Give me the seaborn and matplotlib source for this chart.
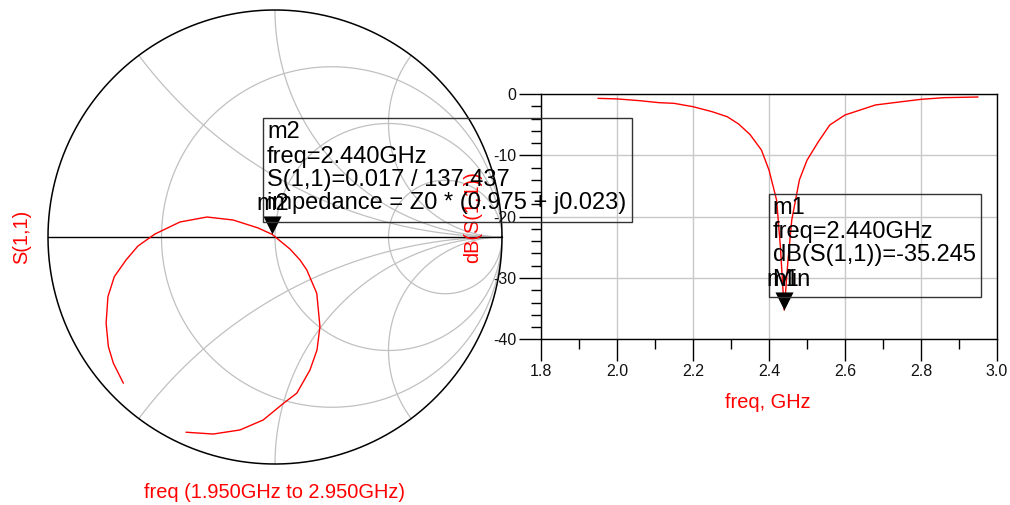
import numpy as np
import matplotlib
matplotlib.use("Agg")
import matplotlib.pyplot as plt
import matplotlib.patches as mpatches
import seaborn as sns
import pandas as pd

# ---------------- data ----------------
freq_ghz = [1.95, 2.00, 2.06, 2.11, 2.15, 2.20, 2.25, 2.29, 2.32, 2.35, 2.38, 2.40,
            2.42, 2.43, 2.44, 2.45, 2.46, 2.48, 2.50, 2.53, 2.56, 2.60, 2.64, 2.68,
            2.75, 2.80, 2.86, 2.95]
s11_db = [-0.71, -0.80, -1.09, -1.41, -1.52, -2.07, -2.88, -3.70, -4.89, -6.60, -9.13, -12.4,
          -17.3, -24.9, -35.245, -27.1, -20.5, -14.0, -10.8, -7.77, -5.05, -3.42, -2.61, -1.79,
          -1.25, -0.87, -0.60, -0.49]

gamma_re = [-0.668, -0.712, -0.734, -0.744, -0.736, -0.708, -0.656, -0.604, -0.529, -0.419,
            -0.300, -0.185, -0.075, -0.0125, 0.066, 0.110, 0.140, 0.184, 0.198, 0.185,
            0.154, 0.096, 0.037, -0.052, -0.154, -0.272, -0.392]
gamma_im = [-0.644, -0.556, -0.483, -0.380, -0.263, -0.175, -0.101, -0.040, 0.013, 0.066,
            0.088, 0.075, 0.040, 0.0115, -0.053, -0.101, -0.145, -0.248, -0.395, -0.498,
            -0.586, -0.688, -0.733, -0.806, -0.850, -0.868, -0.860]

r_circles = [1 / 3, 1.0, 3.0]
x_arcs = [0.5, 1.0, 2.0]

x_major = [1.8, 2.0, 2.2, 2.4, 2.6, 2.8, 3.0]
x_labels = ["1.8", "2.0", "2.2", "2.4", "2.6", "2.8", "3.0"]
y_major = [-40, -30, -20, -10, 0]
y_labels = ["-40", "-30", "-20", "-10", "0"]

m1_freq, m1_db = 2.44, -35.245
m2_mag, m2_ang = 0.017, 137.437

m1_lines = ["m1", "freq=2.440GHz", "dB(S(1,1))=-35.245", "Min"]
m2_lines = ["m2", "freq=2.440GHz", "S(1,1)=0.017 / 137.437",
            "impedance = Z0 * (0.975 + j0.023)"]

# ---------------- style ----------------
sns.set_theme(style="white")
plt.rcParams['font.family'] = ['Liberation Sans', 'DejaVu Sans']
plt.rcParams['axes.unicode_minus'] = False

W, H = 1010, 505
fig = plt.figure(figsize=(W / 100, H / 100), dpi=100)
fig.patch.set_facecolor("white")


def fx(x):
    return x / W


def fy(y):
    return 1 - y / H


tri = [(0, 0), (-0.5, 1), (0.5, 1), (0, 0)]
GRID = "#c0c0c0"

# ---------------- Smith chart ----------------
ax1 = fig.add_axes([fx(48), fy(464), 454 / W, 454 / H])
ax1.set_xlim(-1, 1)
ax1.set_ylim(-1, 1)
ax1.set_aspect("equal")
ax1.axis("off")

th = np.linspace(0, 2 * np.pi, 600)
for r in r_circles:
    c, rad = r / (1 + r), 1 / (1 + r)
    ax1.plot(c + rad * np.cos(th), rad * np.sin(th), color=GRID, lw=0.9, zorder=1)
tt = np.linspace(0, np.pi / 2, 800)[:-1]
rr = np.tan(tt)
for xv in x_arcs:
    for s in (1, -1):
        z = rr + 1j * s * xv
        g = (z - 1) / (z + 1)
        gx = np.append(g.real, 1.0)
        gy = np.append(g.imag, 0.0)
        ax1.plot(gx, gy, color=GRID, lw=0.9, zorder=1)

ax1.plot(np.cos(th), np.sin(th), color="black", lw=1.1, zorder=2, clip_on=False)
ax1.plot([-1, 1], [0, 0], color="black", lw=1.0, zorder=2, clip_on=False)

smith_df = pd.DataFrame({"re": gamma_re, "im": gamma_im})
sns.lineplot(data=smith_df, x="re", y="im", sort=False, estimator=None,
             color="red", lw=1.0, ax=ax1, zorder=3)
ax1.axis("off")

m2x = m2_mag * np.cos(np.deg2rad(m2_ang))
m2y = m2_mag * np.sin(np.deg2rad(m2_ang))
ax1.plot([m2x], [m2y], marker=tri, ms=26, color="black", mew=0, zorder=5, clip_on=False)

# ---------------- dB(S11) plot ----------------
ax2 = fig.add_axes([fx(541), fy(339.3), (997 - 541) / W, (339.3 - 94) / H])
db_df = pd.DataFrame({"freq": freq_ghz, "db": s11_db})
sns.lineplot(data=db_df, x="freq", y="db", sort=False, estimator=None,
             color="red", lw=1.0, ax=ax2, zorder=3)
ax2.set_xlim(1.8, 3.0)
ax2.set_ylim(-40, 0)
ax2.set_xticks(x_major)
ax2.set_xticklabels(x_labels)
ax2.set_yticks(y_major)
ax2.set_yticklabels(y_labels)
ax2.set_xticks(np.arange(1.9, 3.0, 0.2), minor=True)
ax2.set_yticks(np.arange(-38, 0, 2), minor=True)
ax2.tick_params(axis="both", which="major", direction="out", length=16, width=1,
                color="black", labelsize=11.5, labelcolor="#111111", pad=2,
                bottom=True, left=True, top=False, right=False)
ax2.tick_params(axis="both", which="minor", direction="out", length=7, width=1,
                color="black", bottom=True, left=True, top=False, right=False)
ax2.grid(True, which="major", color="#c8c8c8", lw=1.0)
ax2.set_axisbelow(True)
for sp in ax2.spines.values():
    sp.set_visible(True)
    sp.set_color("black")
    sp.set_linewidth(1.0)
ax2.set_xlabel("")
ax2.set_ylabel("")
ax2.set_facecolor("none")
ax2.plot([m1_freq], [m1_db], marker=tri, ms=26, color="black", mew=0, zorder=5, clip_on=False)

# ---------------- labels ----------------
RED = "#ff0000"
fig.text(fx(22), fy(237), "S(1,1)", rotation=90, color=RED, fontsize=14.4,
         ha="center", va="center")
fig.text(fx(274), fy(492), "freq (1.950GHz to 2.950GHz)", color=RED, fontsize=14.4,
         ha="center", va="center")
fig.text(fx(473), fy(217), "dB(S(1,1))", rotation=90, color=RED, fontsize=14.4,
         ha="center", va="center")
fig.text(fx(768), fy(402), "freq, GHz", color=RED, fontsize=14.4,
         ha="center", va="center")

# marker boxes (transparent, drawn over the plots as in the reference)
fig.add_artist(mpatches.Rectangle((fx(263), fy(221.7)), (632 - 263) / W, (221.7 - 118.3) / H,
                                  transform=fig.transFigure, fill=False,
                                  ec="#333333", lw=1.0, zorder=6))
for txt, yy in zip(m2_lines, [131.7, 156.7, 180.0, 203.5]):
    fig.text(fx(267), fy(yy), txt, fontsize=17, color="black", ha="left", va="center", zorder=7)
fig.text(fx(273), fy(204), "m2", fontsize=17, color="black", ha="center", va="center", zorder=7)

fig.add_artist(mpatches.Rectangle((fx(769), fy(297.3)), (981 - 769) / W, (297.3 - 194.3) / H,
                                  transform=fig.transFigure, fill=False,
                                  ec="#333333", lw=1.0, zorder=6))
for txt, yy in zip(m1_lines, [208.3, 231.7, 255.0, 280.0]):
    fig.text(fx(772.5), fy(yy), txt, fontsize=17, color="black", ha="left", va="center", zorder=7)
fig.text(fx(783), fy(280), "m1", fontsize=17, color="black", ha="center", va="center", zorder=7)

fig.savefig("out.png", dpi=100, facecolor="white")
